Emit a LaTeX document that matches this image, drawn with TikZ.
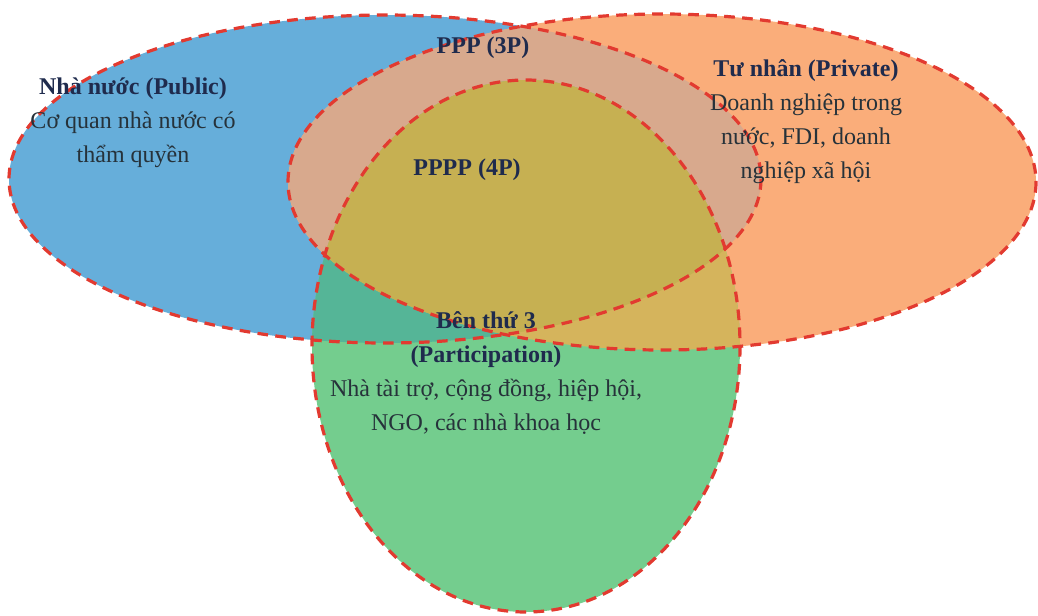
\documentclass[tikz,border=0pt]{standalone}
\usepackage{fontspec}
\setmainfont{Liberation Serif}
\definecolor{publicfill}{HTML}{66AEDA}
\definecolor{privatefill}{HTML}{FAAD7A}
\definecolor{partfill}{HTML}{74CD8E}
\definecolor{pubpriv}{HTML}{D8A98D}
\definecolor{pubpart}{HTML}{55B597}
\definecolor{privpart}{HTML}{D5B45C}
\definecolor{allthree}{HTML}{C6B052}
\definecolor{border}{HTML}{E23A30}
\definecolor{head}{HTML}{1F2B4D}
\definecolor{body}{HTML}{26323A}
\newcommand\publicpath{(385,179) ellipse [x radius=376, y radius=164]}
\newcommand\privatepath{(662,182) ellipse [x radius=374, y radius=168]}
\newcommand\partpath{(526,346) ellipse [x radius=214, y radius=266]}
\begin{document}
\begin{tikzpicture}[x=0.75pt,y=-0.75pt,font=\fontsize{18}{25.5}\selectfont,rim/.style={draw=border,line width=2.4pt,dash pattern=on 8pt off 5.5pt},label/.style={align=center,text=body},title/.style={font=\fontsize{18}{25.5}\selectfont\bfseries,text=head}]
 \useasboundingbox (0,0) rectangle (1038,615);
 \fill[publicfill] \publicpath;
 \fill[privatefill] \privatepath;
 \fill[partfill] \partpath;
 \begin{scope} \clip \publicpath; \fill[pubpriv] \privatepath; \end{scope}
 \begin{scope} \clip \publicpath; \fill[pubpart] \partpath; \end{scope}
 \begin{scope} \clip \privatepath; \fill[privpart] \partpath; \end{scope}
 \begin{scope} \clip \publicpath; \clip \privatepath; \fill[allthree] \partpath; \end{scope}
 \draw[rim] \publicpath;
 \draw[rim] \privatepath;
 \draw[rim] \partpath;
 % labels
 \node[label] (public) at (133,123) {\textbf{\textcolor{head}{Nhà nước (Public)}}\\Cơ quan nhà nước có\\thẩm quyền};
 \node[label] (private) at (806,122) {\textbf{\textcolor{head}{Tư nhân (Private)}}\\Doanh nghiệp trong\\nước, FDI, doanh\\nghiệp xã hội};
 \node[title] (ppp) at (483,48) {PPP (3P)};
 \node[title] (pppp) at (467,170) {PPPP (4P)};
 \node[label] (part) at (486,373) {\textbf{\textcolor{head}{Bên thứ 3}}\\\textbf{\textcolor{head}{(Participation)}}\\Nhà tài trợ, cộng đồng, hiệp hội,\\NGO, các nhà khoa học};
\end{tikzpicture}
\end{document}
